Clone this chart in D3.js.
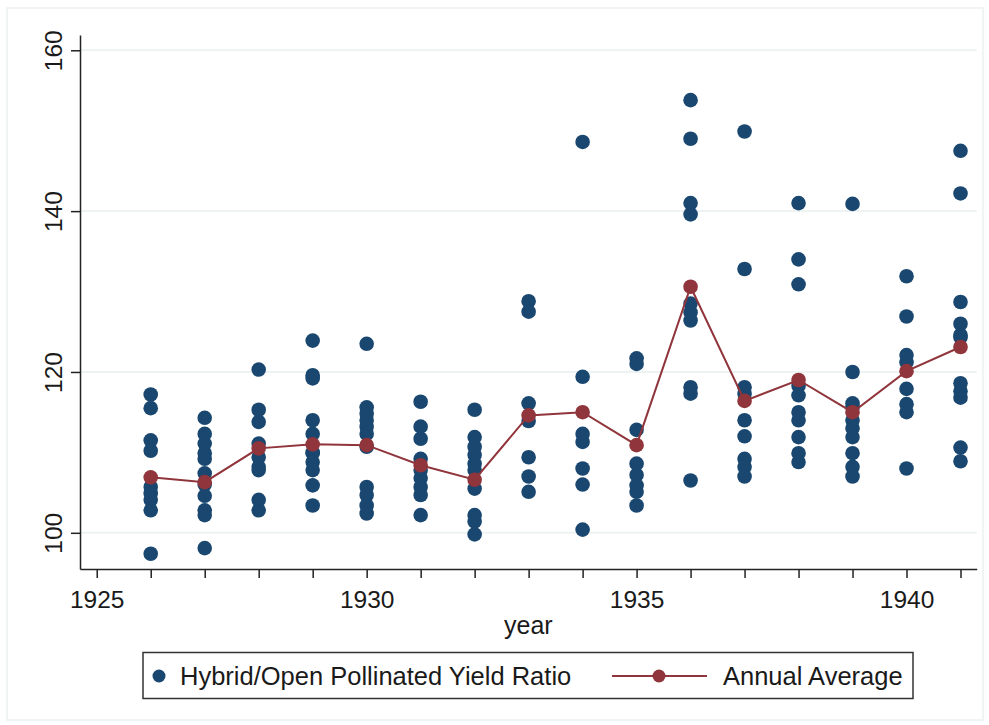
<!DOCTYPE html>
<html>
<head>
<meta charset="utf-8">
<script src="https://cdn.jsdelivr.net/npm/d3@7"></script>
<style>
  body { margin: 0; background: #fff; }
  text { font-family: "Liberation Sans", Arial, sans-serif; fill: #1a1a1a; }
</style>
</head>
<body>
<svg id="chart" width="989" height="725"></svg>
<script>
// years on the x axis
const years = [1926, 1927, 1928, 1929, 1930, 1931, 1932, 1933, 1934, 1935, 1936, 1937, 1938, 1939, 1940, 1941];

// hybrid / open pollinated yield ratio, one list per year
const ratios = [
    [117.2, 115.5, 111.5, 110.2, 105.7, 104.9, 104.1, 102.8, 97.4],
    [114.3, 112.3, 111.1, 109.9, 109.2, 107.4, 106.0, 104.6, 102.8, 102.2, 98.1],
    [120.3, 115.3, 113.8, 111.1, 109.4, 108.2, 107.8, 104.1, 102.8],
    [123.9, 119.6, 119.2, 114.0, 112.3, 110.0, 109.9, 108.8, 107.8, 105.9, 103.4],
    [123.5, 115.6, 114.8, 114.0, 113.2, 112.3, 110.7, 105.7, 104.7, 103.4, 102.4],
    [116.3, 113.2, 111.7, 109.2, 107.8, 106.8, 105.7, 104.7, 102.2],
    [115.3, 111.9, 110.7, 109.7, 108.6, 107.8, 105.5, 102.2, 101.4, 99.8],
    [128.8, 127.5, 116.1, 113.9, 109.4, 107.0, 105.1],
    [148.6, 119.4, 112.3, 111.3, 108.0, 106.0, 100.4],
    [121.7, 121.0, 112.8, 108.6, 107.2, 105.9, 105.1, 103.4],
    [153.8, 149.0, 141.0, 139.6, 128.5, 127.4, 126.4, 118.1, 117.3, 106.5],
    [149.9, 132.8, 118.1, 117.3, 114.0, 112.0, 109.2, 108.2, 107.0],
    [141.0, 134.0, 130.9, 118.3, 117.1, 115.0, 114.0, 111.9, 109.9, 108.8],
    [140.9, 120.0, 116.1, 115.6, 114.0, 113.0, 111.9, 109.9, 108.2, 107.0],
    [131.9, 126.9, 122.1, 121.2, 117.9, 116.0, 115.0, 108.0],
    [147.5, 142.2, 128.7, 126.0, 124.6, 124.3, 118.6, 117.6, 116.8, 110.6, 108.9]
];

// annual average of the ratio
const avgRatio = [106.9, 106.3, 110.5, 111.0, 110.9, 108.4, 106.6, 114.6, 115.0, 110.9, 130.6, 116.4, 119.0, 115.0, 120.1, 123.1];

const yTicks = [100, 120, 140, 160];
const xLabelYears = [1925, 1930, 1935, 1940];
const legendLabels = ["Hybrid/Open Pollinated Yield Ratio", "Annual Average"];

const blue = "#1a476f";
const red = "#90353b";
const grid = "#edf2f3";

const svg = d3.select("#chart");

// faint outer frame like the stata graph region
svg.append("rect")
    .attr("x", 7).attr("y", 8)
    .attr("width", 976).attr("height", 712)
    .attr("fill", "none")
    .attr("stroke", "#f1f4f4")
    .attr("stroke-width", 2);

const x = d3.scaleLinear().domain([1924.69, 1941.3]).range([80, 976.7]);
const y = d3.scaleLinear().domain([95.5, 161.9]).range([569, 35]);

// gridlines
svg.append("g")
    .selectAll("line")
    .data(yTicks)
    .enter().append("line")
    .attr("x1", x(1924.69)).attr("x2", x(1941.3))
    .attr("y1", d => y(d)).attr("y2", d => y(d))
    .attr("stroke", grid)
    .attr("stroke-width", 2);

// y axis
const yAxis = svg.append("g")
    .attr("transform", "translate(" + x(1924.69) + ",0)")
    .call(d3.axisLeft(y).tickValues(yTicks).tickSize(9).tickSizeOuter(0).tickFormat(d3.format("d")));
yAxis.select(".domain").attr("stroke", "#222").attr("stroke-width", 1.5);
yAxis.selectAll(".tick line").attr("stroke", "#222").attr("stroke-width", 1.5);
yAxis.selectAll(".tick text")
    .attr("x", 0).attr("y", 0)
    .attr("dy", 0)
    .attr("transform", "translate(-18,0) rotate(-90)")
    .style("text-anchor", "middle")
    .style("font-size", "24.5px")
    .style("font-family", "Liberation Sans, Arial, sans-serif")
    .attr("fill", "#1a1a1a");

// x axis, a tick every year but labels only every 5
const xTickYears = d3.range(1925, 1942);
const xAxis = svg.append("g")
    .attr("transform", "translate(0," + y(95.5) + ")")
    .call(d3.axisBottom(x).tickValues(xTickYears).tickSize(9).tickSizeOuter(0)
        .tickFormat(d => xLabelYears.includes(d) ? d : ""));
xAxis.select(".domain").attr("stroke", "#222").attr("stroke-width", 1.5);
xAxis.selectAll(".tick line").attr("stroke", "#222").attr("stroke-width", 1.5);
xAxis.selectAll(".tick text")
    .attr("y", 39).attr("dy", 0)
    .style("font-size", "24.5px")
    .style("font-family", "Liberation Sans, Arial, sans-serif")
    .attr("fill", "#1a1a1a");

svg.append("text")
    .attr("x", (x(1924.69) + x(1941.3)) / 2)
    .attr("y", 634)
    .attr("text-anchor", "middle")
    .style("font-size", "25px")
    .text("year");

// scatter of ratios
const pts = [];
years.forEach((yr, i) => ratios[i].forEach(v => pts.push({ year: yr, value: v })));

svg.append("g")
    .selectAll("circle")
    .data(pts)
    .enter().append("circle")
    .attr("cx", d => x(d.year))
    .attr("cy", d => y(d.value))
    .attr("r", 7.3)
    .attr("fill", blue);

// annual average line
const avgData = years.map((yr, i) => ({ year: yr, value: avgRatio[i] }));
svg.append("path")
    .datum(avgData)
    .attr("d", d3.line().x(d => x(d.year)).y(d => y(d.value)))
    .attr("fill", "none")
    .attr("stroke", red)
    .attr("stroke-width", 2);

svg.append("g")
    .selectAll("circle")
    .data(avgData)
    .enter().append("circle")
    .attr("cx", d => x(d.year))
    .attr("cy", d => y(d.value))
    .attr("r", 7.3)
    .attr("fill", red);

// legend
const lg = svg.append("g");
lg.append("rect")
    .attr("x", 143).attr("y", 652.5)
    .attr("width", 770).attr("height", 46)
    .attr("fill", "#fff")
    .attr("stroke", "#333")
    .attr("stroke-width", 1.5);
lg.append("circle").attr("cx", 159).attr("cy", 676).attr("r", 6.5).attr("fill", blue);
lg.append("text").attr("x", 180).attr("y", 685)
    .style("font-size", "25.5px").text(legendLabels[0]);
lg.append("line")
    .attr("x1", 612).attr("x2", 707).attr("y1", 676).attr("y2", 676)
    .attr("stroke", red).attr("stroke-width", 2);
lg.append("circle").attr("cx", 659).attr("cy", 676).attr("r", 6.5).attr("fill", red);
lg.append("text").attr("x", 723).attr("y", 685)
    .style("font-size", "25.5px").text(legendLabels[1]);
</script>
</body>
</html>
